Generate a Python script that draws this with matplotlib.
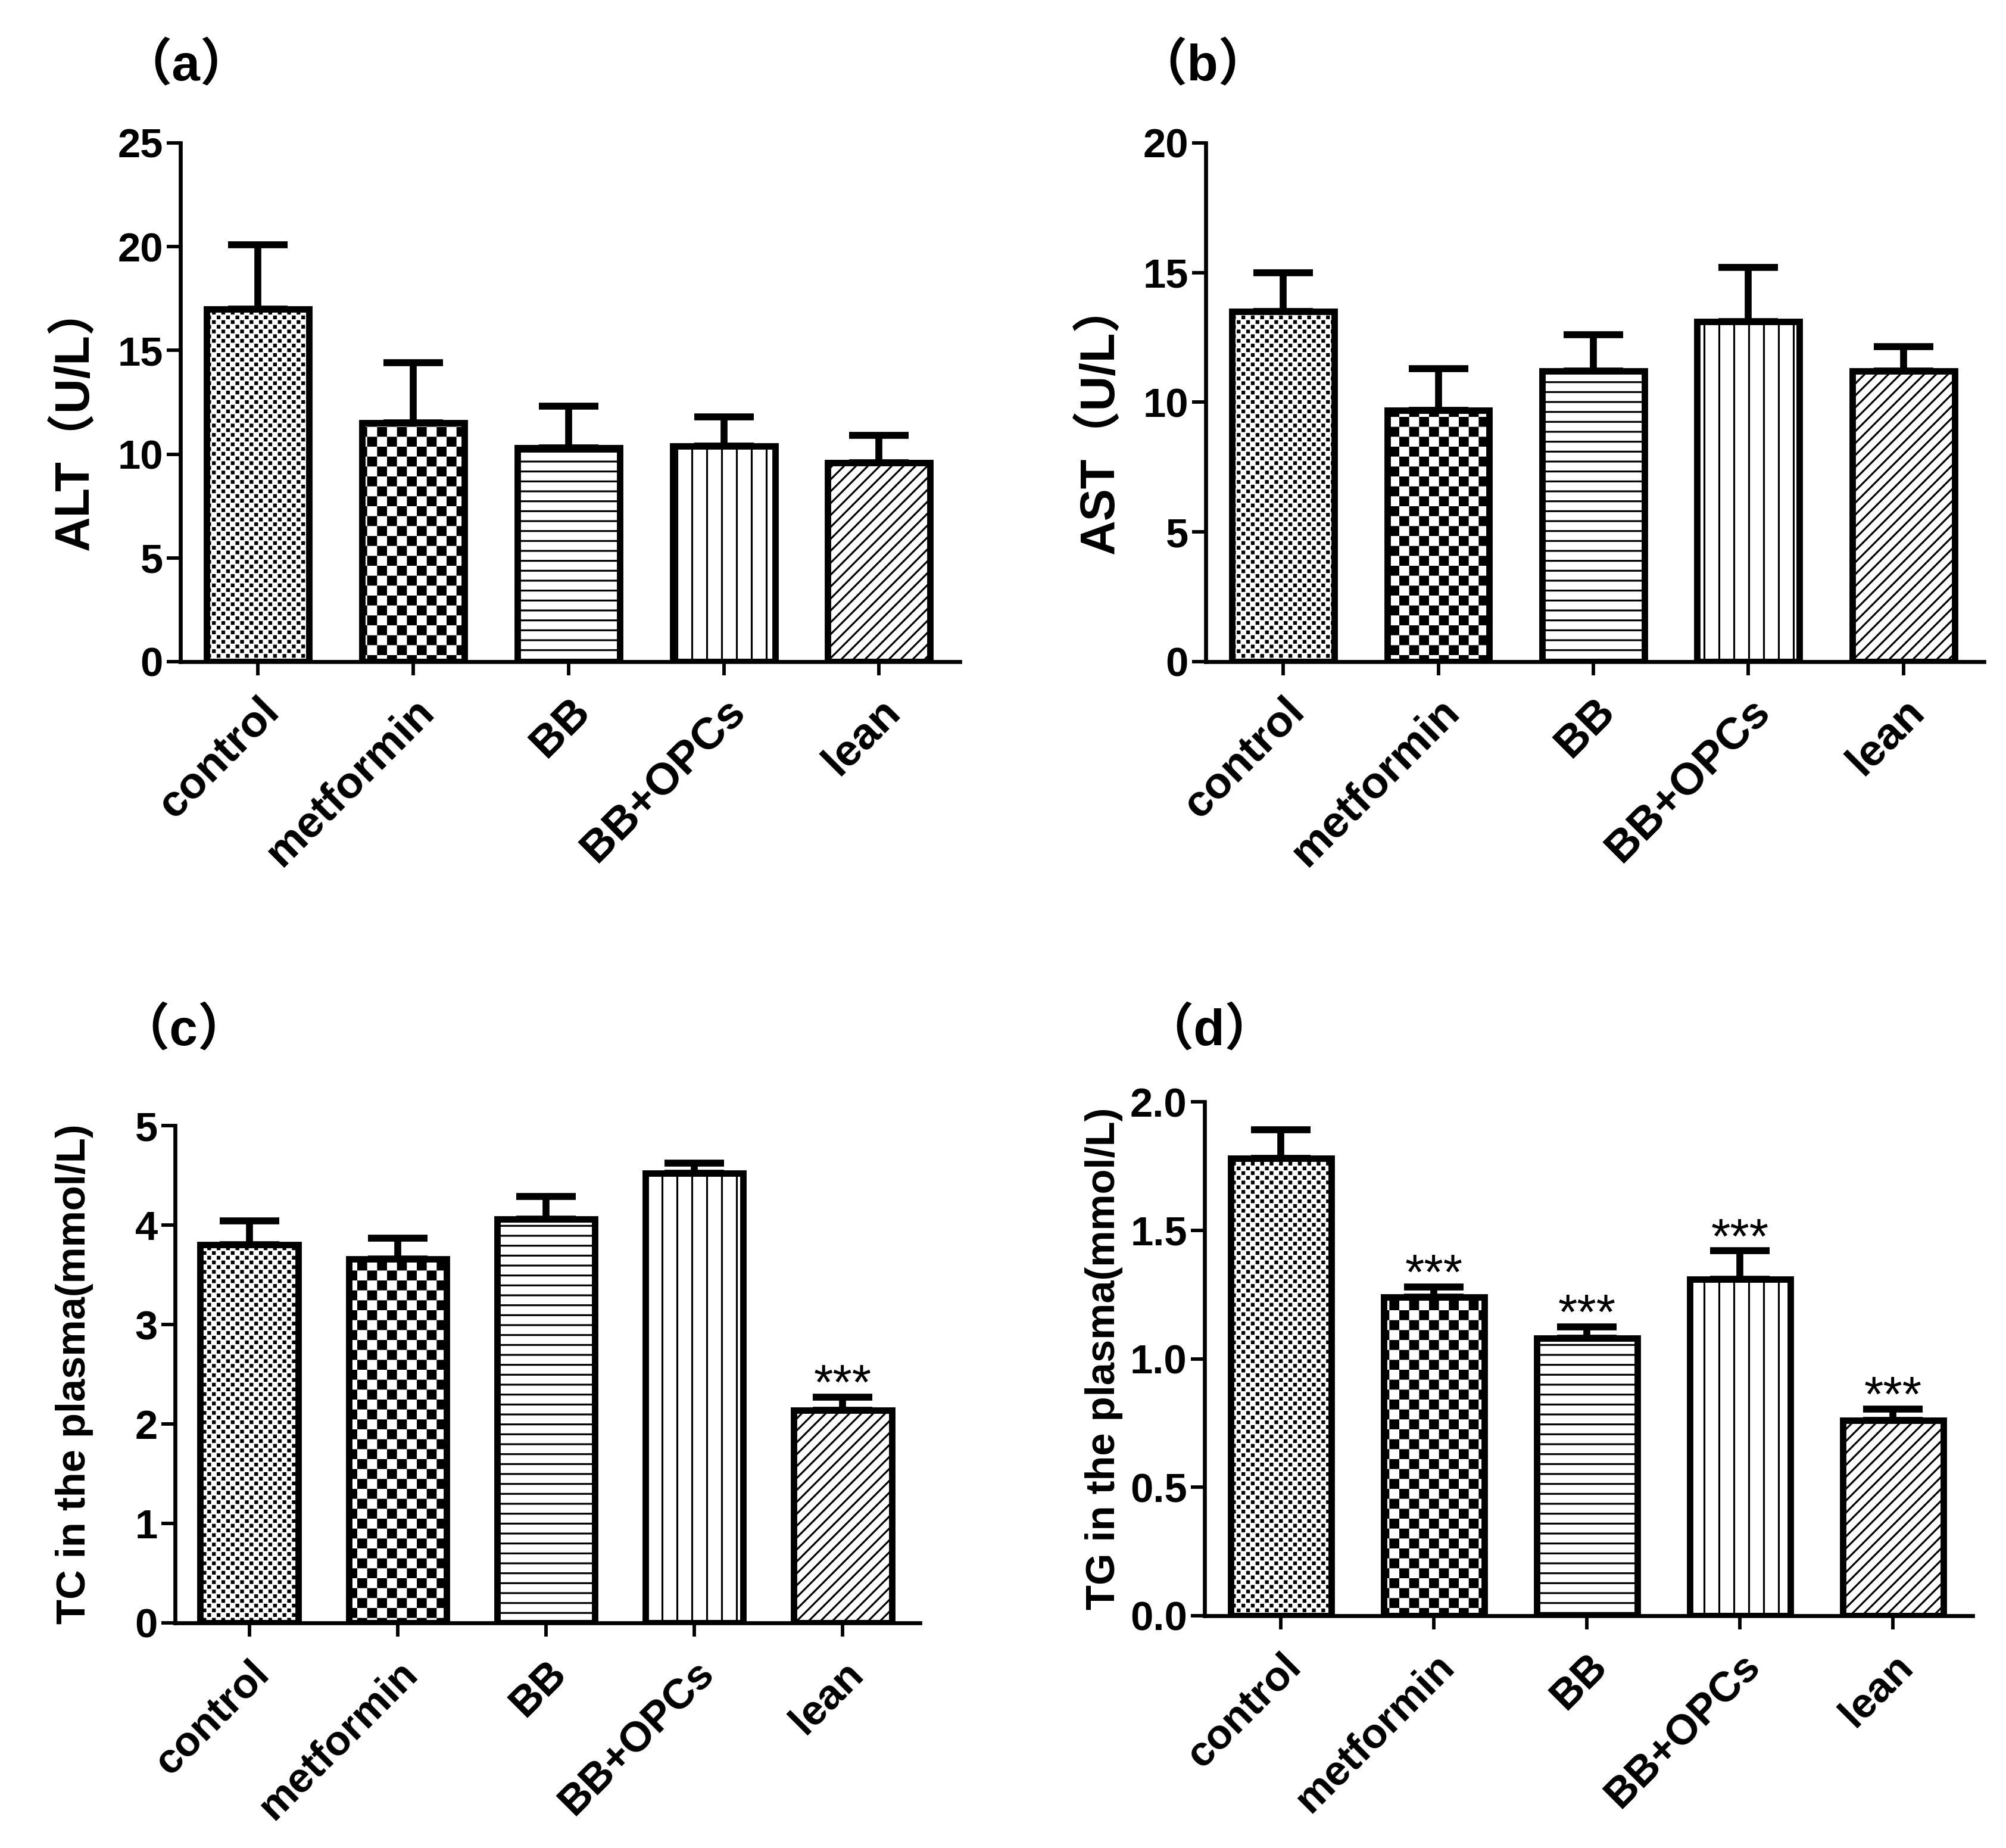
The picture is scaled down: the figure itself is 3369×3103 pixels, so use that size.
import numpy as np
import matplotlib
matplotlib.use('Agg')
import matplotlib.pyplot as plt
import matplotlib.hatch as mhatch
from matplotlib.path import Path
from matplotlib.ticker import FormatStrFormatter

# Data
groups = ['control', 'metformin', 'BB', 'BB+OPCs', 'lean']

alt_mean = [17.0, 11.5, 10.3, 10.4, 9.6]
alt_err = [3.1, 2.9, 2.0, 1.4, 1.3]

ast_mean = [13.5, 9.7, 11.2, 13.1, 11.2]
ast_err = [1.5, 1.6, 1.4, 2.1, 0.95]

tc_mean = [3.80, 3.66, 4.06, 4.52, 2.14]
tc_err = [0.24, 0.21, 0.23, 0.10, 0.13]
tc_sig = ['', '', '', '', '***']

tg_mean = [1.78, 1.24, 1.08, 1.31, 0.76]
tg_err = [0.11, 0.04, 0.045, 0.11, 0.045]
tg_sig = ['', '***', '***', '***', '***']


# Custom fill patterns: checkerboard of squares, n cells per hatch tile
class CheckerHatch(mhatch.HatchPatternBase):
    key = '*'
    n = 18
    frac = 0.81

    def __init__(self, hatch, density):
        self.on = hatch is not None and self.key in hatch
        self.num_vertices = (self.n * self.n // 2) * 5 if self.on else 0

    def set_vertices_and_codes(self, vertices, codes):
        s = 1.0 / self.n
        a = s * self.frac
        pad = (s - a) / 2
        k = 0
        for i in range(self.n):
            for j in range(self.n):
                if (i + j) % 2:
                    continue
                x0 = j * s + pad
                y0 = i * s + pad
                vertices[k:k + 5] = [(x0, y0), (x0 + a, y0), (x0 + a, y0 + a),
                                     (x0, y0 + a), (x0, y0)]
                codes[k:k + 5] = [Path.MOVETO, Path.LINETO, Path.LINETO,
                                  Path.LINETO, Path.CLOSEPOLY]
                k += 5


class DotHatch(CheckerHatch):
    key = '.'
    n = 38
    frac = 0.4


mhatch._hatch_types = [
    CheckerHatch if t is mhatch.Stars else DotHatch if t is mhatch.SmallFilledCircles else t
    for t in mhatch._hatch_types
]

plt.rcParams['font.family'] = ['Liberation Sans', 'Noto Sans CJK SC']
plt.rcParams['font.weight'] = 'bold'
plt.rcParams['axes.labelweight'] = 'bold'
plt.rcParams['hatch.linewidth'] = 0.75
plt.rcParams['hatch.color'] = 'black'

hatches = ['.', '*', '---', '||', '/////']

W, H = 3369, 3103
fig = plt.figure(figsize=(W / 300, H / 300), dpi=300)


def px_rect(l, t, r, b):
    return [l / W, 1 - b / H, (r - l) / W, (b - t) / H]


def draw_panel(rect, means, errs, ylabel, ymax, ystep, fmt, sig=None,
               label_y=0.5, label_size=16.5, xtick_size=17, xpad=7):
    ax = fig.add_axes(px_rect(*rect))
    x = np.arange(len(groups))
    ax.errorbar(x, means, yerr=[np.zeros(len(errs)), errs], fmt='none',
                ecolor='black', elinewidth=2.8, capsize=12, capthick=2.8, zorder=1)
    bars = ax.bar(x, means, width=0.66, color='white', edgecolor='black',
                  linewidth=2.6, zorder=2)
    for b, h in zip(bars, hatches):
        b.set_hatch(h)

    if sig:
        for xi, m, e, s in zip(x, means, errs, sig):
            if s:
                ax.annotate(s, (xi, m + e), xytext=(0, -1), textcoords='offset points',
                            ha='center', va='baseline', fontsize=20,
                            fontweight='normal', annotation_clip=False)

    ax.set_xlim(-0.5, 4.52)
    ax.set_ylim(0, ymax)
    ax.set_yticks(np.arange(0, ymax + ystep / 2, ystep))
    ax.yaxis.set_major_formatter(FormatStrFormatter(fmt))
    ax.set_xticks(x)
    ax.set_xticklabels(groups, rotation=45, ha='right', va='top',
                       rotation_mode='anchor', fontsize=xtick_size)

    for side in ['top', 'right']:
        ax.spines[side].set_visible(False)
    for side in ['left', 'bottom']:
        ax.spines[side].set_linewidth(1.6)
    ax.tick_params(axis='both', direction='out', length=5.5, width=1.4)
    ax.tick_params(axis='y', pad=1.5, labelsize=16.5)
    ax.tick_params(axis='x', pad=xpad)

    ax.set_ylabel(ylabel, fontsize=label_size)
    width_px = rect[2] - rect[0]
    ax.yaxis.set_label_coords(-137 / width_px, label_y)
    return ax


draw_panel((303, 240, 1612, 1111), alt_mean, alt_err, 'ALT（U/L）', 25, 5, '%d',
           label_y=0.47, label_size=19.5, xtick_size=18, xpad=6)
draw_panel((2025, 240, 3332, 1111), ast_mean, ast_err, 'AST（U/L）', 20, 5, '%d',
           label_y=0.47, label_size=19.5, xtick_size=18, xpad=6)
draw_panel((294, 1890, 1545, 2725), tc_mean, tc_err, 'TC in the plasma(mmol/L)', 5, 1, '%d',
           tc_sig)
draw_panel((2023, 1850, 3313, 2713), tg_mean, tg_err, 'TG in the plasma(mmol/L)', 2.0, 0.5, '%.1f',
           tg_sig)

# Panel letters
for txt, (px, py) in zip(['（a）', '（b）', '（c）', '（d）'],
                         [(312, 135), (2020, 135), (309, 1755), (2031, 1755)]):
    fig.text(px / W, 1 - py / H, txt, ha='center', va='baseline', fontsize=20.5, fontweight='bold')

fig.savefig('out.png', dpi=300, facecolor='white')
